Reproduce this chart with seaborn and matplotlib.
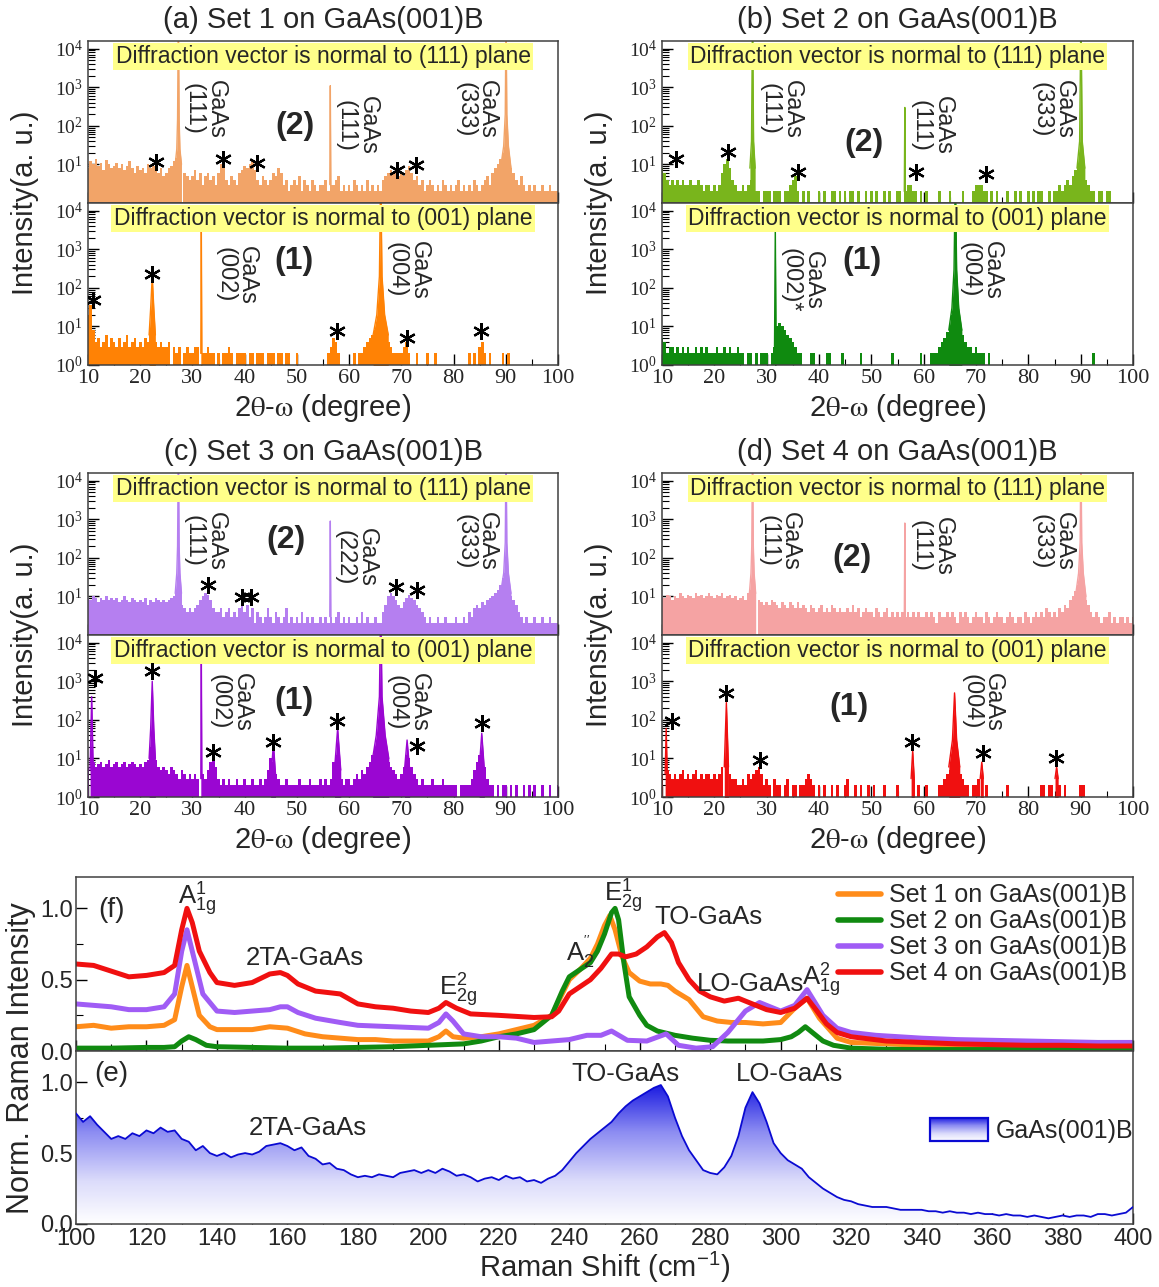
import numpy as np
import pandas as pd
import matplotlib
matplotlib.use("Agg")
import matplotlib.pyplot as plt
import seaborn as sns
from matplotlib.ticker import MultipleLocator, LogLocator, NullFormatter, FormatStrFormatter
from matplotlib.colors import LinearSegmentedColormap
from matplotlib.legend_handler import HandlerBase
from matplotlib.image import BboxImage
from matplotlib.transforms import Bbox, TransformedBbox
from matplotlib.patches import Rectangle, PathPatch, Patch
from matplotlib.path import Path

# ---------------------------------------------------------------- XRD data
# counts on a 0.5 degree grid from 10 to 100 degrees (0 = empty channel)
two_theta = np.arange(10.0, 100.001, 0.5)

a_111_counts = [
    8, 12, 10, 14, 9, 11, 7, 13, 10, 8,
    9, 11, 8, 10, 7, 9, 12, 8, 6, 9,
    7, 8, 6, 10, 8, 9, 7, 6, 8, 5,
    6, 8, 9, 12, 15, 0, 0, 6, 5, 4,
    5, 7, 4, 6, 3, 5, 6, 4, 5, 3,
    6, 10, 8, 4, 3, 5, 4, 3, 6, 7,
    9, 8, 10, 12, 7, 4, 3, 5, 4, 3,
    4, 6, 5, 8, 6, 3, 4, 2, 3, 4,
    3, 5, 2, 4, 3, 2, 4, 3, 2, 3,
    3, 4, 2, 3, 3, 4, 5, 2, 3, 2,
    3, 2, 4, 3, 2, 3, 2, 4, 2, 3,
    2, 3, 2, 4, 5, 6, 7, 6, 8, 5,
    6, 5, 7, 9, 6, 4, 5, 3, 4, 2,
    3, 4, 3, 2, 3, 2, 4, 3, 2, 3,
    2, 3, 4, 2, 3, 2, 3, 2, 4, 3,
    2, 3, 4, 5, 3, 6, 8, 10, 14, 20,
    25, 12, 8, 6, 4, 3, 5, 3, 2, 3,
    2, 3, 2, 2, 3, 2, 2, 3, 2, 2,
    2]
a_111_peaks = [
    [(26.7, 10), (27.0, 25), (27.15, 150), (27.3, 1e5), (27.45, 150), (27.6, 25), (27.9, 10)],
    [(56.3, 3), (56.4, 1100), (56.5, 3)],
    [(89.0, 8), (89.6, 30), (89.9, 200), (90.05, 1e5), (90.2, 200), (90.5, 30), (91.0, 8)],
]
a_001_counts = [
    20, 35, 8, 4, 5, 3, 4, 6, 3, 5,
    4, 3, 5, 3, 4, 6, 3, 4, 5, 3,
    4, 3, 5, 4, 8, 6, 4, 3, 4, 3,
    3, 4, 0, 3, 2, 3, 0, 2, 3, 2,
    2, 3, 3, 0, 2, 2, 3, 2, 2, 0,
    2, 0, 2, 2, 3, 2, 0, 2, 2, 2,
    2, 0, 2, 2, 0, 2, 2, 2, 0, 2,
    2, 2, 0, 2, 2, 0, 2, 2, 0, 0,
    2, 0, 0, 0, 0, 0, 0, 0, 0, 0,
    0, 0, 2, 3, 5, 4, 2, 0, 0, 0,
    0, 0, 2, 0, 2, 2, 3, 4, 5, 6,
    8, 10, 12, 8, 6, 4, 3, 2, 2, 2,
    2, 3, 4, 2, 0, 0, 2, 0, 0, 0,
    2, 0, 0, 2, 0, 0, 0, 0, 0, 0,
    0, 0, 0, 0, 0, 0, 2, 0, 2, 0,
    3, 4, 2, 0, 2, 0, 0, 0, 0, 2,
    0, 2, 0, 0, 0, 0, 0, 0, 0, 0,
    0, 0, 0, 0, 0, 0, 0, 0, 0, 0,
    0]
a_001_peaks = [
    [(21.7, 6), (22.0, 30), (22.3, 200), (22.6, 30), (22.9, 6)],
    [(31.6, 2), (31.7, 4000), (31.8, 2)],
    [(64.6, 6), (65.3, 20), (65.8, 200), (66.05, 1e5), (66.3, 200), (66.8, 20), (67.5, 6)],
]

b_111_counts = [
    8, 6, 4, 3, 4, 3, 4, 3, 4, 3,
    3, 4, 3, 3, 4, 3, 2, 3, 3, 2,
    3, 2, 3, 6, 10, 14, 8, 4, 3, 2,
    2, 3, 2, 3, 4, 3, 2, 2, 0, 2,
    2, 2, 0, 2, 2, 2, 0, 2, 2, 3,
    4, 5, 2, 0, 2, 0, 2, 0, 0, 0,
    2, 0, 2, 0, 0, 2, 2, 0, 2, 0,
    2, 0, 2, 2, 0, 2, 0, 0, 2, 0,
    2, 0, 2, 0, 0, 2, 0, 2, 0, 0,
    2, 2, 0, 2, 3, 3, 2, 2, 0, 2,
    0, 2, 0, 0, 0, 0, 2, 0, 0, 0,
    2, 0, 0, 0, 0, 2, 0, 0, 0, 2,
    3, 3, 3, 2, 2, 0, 2, 0, 2, 0,
    0, 0, 2, 0, 0, 2, 0, 2, 0, 0,
    2, 0, 2, 0, 2, 2, 0, 0, 2, 0,
    2, 2, 3, 2, 3, 4, 3, 5, 7, 10,
    10, 6, 4, 3, 2, 2, 0, 2, 2, 0,
    2, 2, 0, 0, 0, 0, 0, 0, 0, 0,
    0]
b_111_peaks = [
    [(26.8, 8), (27.1, 40), (27.3, 1e5), (27.5, 40), (27.8, 8)],
    [(56.3, 2), (56.4, 300), (56.5, 2)],
    [(89.3, 8), (89.8, 40), (90.05, 1e5), (90.3, 40), (90.8, 8)],
]
b_001_counts = [
    5, 4, 2, 3, 3, 2, 3, 2, 3, 2,
    3, 2, 2, 3, 2, 3, 2, 3, 2, 2,
    2, 3, 2, 2, 3, 2, 3, 2, 2, 3,
    2, 2, 0, 2, 2, 0, 2, 0, 2, 2,
    2, 0, 2, 3, 10, 12, 10, 8, 6, 5,
    4, 3, 2, 2, 0, 0, 0, 2, 2, 0,
    0, 0, 0, 2, 2, 0, 0, 0, 0, 2,
    0, 0, 0, 0, 0, 0, 2, 0, 0, 0,
    0, 0, 0, 0, 0, 0, 0, 0, 2, 0,
    0, 0, 0, 0, 0, 0, 0, 0, 0, 2,
    0, 0, 0, 2, 2, 2, 3, 4, 5, 7,
    10, 20, 30, 20, 8, 6, 4, 3, 3, 2,
    3, 2, 2, 2, 0, 2, 0, 0, 0, 0,
    0, 0, 0, 0, 0, 0, 0, 0, 0, 0,
    0, 0, 0, 0, 0, 0, 0, 0, 0, 0,
    0, 0, 0, 0, 0, 0, 0, 0, 0, 0,
    0, 0, 0, 0, 0, 2, 0, 0, 0, 0,
    0, 0, 0, 0, 0, 0, 0, 0, 0, 0,
    0]
b_001_peaks = [
    [(31.5, 3), (31.65, 4000), (31.8, 3)],
    [(64.8, 8), (65.4, 30), (65.8, 300), (66.05, 1e5), (66.3, 300), (66.7, 30), (67.3, 8)],
]

c_111_counts = [
    9, 8, 10, 9, 7, 9, 8, 10, 8, 9,
    8, 9, 7, 8, 10, 8, 7, 9, 8, 7,
    8, 7, 9, 6, 8, 7, 9, 8, 7, 8,
    7, 8, 9, 10, 12, 0, 6, 5, 4, 5,
    4, 5, 6, 8, 10, 12, 11, 8, 5, 4,
    4, 5, 3, 4, 5, 3, 4, 3, 5, 6,
    4, 6, 3, 5, 2, 4, 3, 2, 3, 5,
    3, 2, 4, 3, 2, 3, 5, 2, 3, 2,
    3, 2, 4, 2, 3, 2, 3, 2, 2, 3,
    2, 3, 2, 3, 2, 3, 4, 2, 3, 2,
    3, 2, 2, 3, 2, 4, 2, 3, 2, 2,
    3, 2, 2, 4, 6, 10, 12, 10, 8, 6,
    5, 7, 9, 11, 9, 8, 6, 5, 4, 3,
    2, 3, 2, 2, 3, 2, 2, 3, 2, 2,
    2, 3, 2, 2, 3, 2, 4, 3, 5, 6,
    5, 7, 6, 8, 9, 10, 12, 15, 20, 30,
    40, 0, 10, 8, 6, 4, 3, 2, 3, 2,
    2, 3, 2, 2, 3, 2, 2, 3, 2, 2,
    2]
c_111_peaks = [
    [(26.7, 12), (27.0, 40), (27.15, 200), (27.3, 1e5), (27.45, 200), (27.6, 40), (27.9, 12)],
    [(56.3, 3), (56.4, 900), (56.5, 3)],
    [(89.0, 12), (89.6, 40), (89.9, 250), (90.05, 1e5), (90.2, 250), (90.5, 40), (91.0, 12)],
]
c_001_counts = [
    6, 0, 8, 6, 7, 8, 6, 7, 9, 6,
    7, 8, 6, 7, 8, 6, 7, 8, 7, 6,
    7, 6, 8, 9, 20, 0, 9, 6, 5, 6,
    5, 4, 6, 5, 4, 3, 5, 4, 3, 4,
    3, 4, 3, 0, 4, 3, 5, 8, 10, 6,
    3, 2, 3, 2, 3, 2, 2, 3, 2, 2,
    3, 2, 2, 3, 2, 2, 3, 2, 3, 5,
    10, 8, 4, 3, 2, 2, 3, 2, 2, 2,
    2, 3, 2, 2, 2, 3, 2, 2, 2, 3,
    2, 3, 2, 3, 8, 12, 10, 3, 2, 3,
    3, 2, 3, 4, 3, 5, 4, 6, 8, 12,
    20, 40, 0, 30, 12, 8, 6, 5, 4, 3,
    4, 6, 12, 10, 6, 4, 3, 2, 3, 2,
    2, 2, 3, 2, 2, 2, 3, 2, 2, 2,
    2, 2, 0, 2, 2, 2, 2, 3, 5, 8,
    12, 10, 6, 3, 2, 2, 0, 2, 0, 2,
    2, 0, 2, 0, 2, 0, 0, 2, 0, 2,
    0, 2, 0, 0, 2, 0, 0, 2, 0, 0,
    2]
c_001_peaks = [
    [(10.4, 5), (10.7, 400), (11.0, 5)],
    [(21.7, 10), (22.0, 60), (22.3, 1000), (22.6, 60), (22.9, 10)],
    [(31.6, 3), (31.7, 6000), (31.8, 3)],
    [(45.1, 4), (45.5, 25), (45.9, 4)],
    [(57.2, 5), (57.8, 60), (58.4, 5)],
    [(64.5, 10), (65.2, 40), (65.8, 400), (66.05, 1e5), (66.3, 400), (66.9, 40), (67.6, 10)],
    [(70.6, 5), (71.1, 30), (71.6, 5)],
    [(84.9, 5), (85.4, 45), (85.9, 5)],
]

d_111_counts = [
    10, 9, 11, 10, 8, 10, 9, 12, 10, 9,
    11, 10, 9, 12, 10, 11, 9, 10, 12, 10,
    9, 11, 10, 12, 9, 10, 11, 9, 10, 8,
    9, 10, 8, 12, 15, 0, 0, 8, 7, 6,
    7, 6, 8, 7, 6, 5, 7, 6, 5, 7,
    6, 5, 7, 5, 6, 5, 4, 6, 5, 4,
    5, 6, 4, 5, 4, 6, 5, 4, 5, 4,
    4, 5, 4, 6, 4, 5, 3, 4, 5, 4,
    4, 3, 5, 4, 3, 4, 5, 3, 4, 3,
    4, 3, 4, 3, 4, 3, 4, 3, 4, 3,
    3, 4, 3, 4, 3, 2, 4, 3, 3, 4,
    3, 4, 3, 2, 4, 3, 4, 3, 2, 3,
    4, 3, 3, 2, 4, 3, 2, 3, 4, 3,
    3, 2, 3, 4, 3, 2, 3, 3, 2, 4,
    3, 2, 3, 4, 3, 4, 3, 5, 4, 3,
    4, 3, 5, 4, 6, 5, 8, 10, 14, 20,
    30, 0, 8, 6, 4, 3, 4, 3, 2, 3,
    3, 4, 2, 3, 2, 3, 3, 2, 3, 2,
    3]
d_111_peaks = [
    [(26.7, 12), (27.0, 40), (27.15, 200), (27.3, 1e5), (27.45, 200), (27.6, 40), (27.9, 12)],
    [(56.3, 3), (56.4, 800), (56.5, 3)],
    [(89.0, 10), (89.6, 40), (89.9, 250), (90.05, 1e5), (90.2, 250), (90.5, 40), (91.0, 10)],
]
d_001_counts = [
    4, 0, 5, 4, 3, 4, 3, 4, 5, 3,
    4, 3, 4, 5, 3, 4, 3, 4, 4, 3,
    4, 3, 4, 6, 0, 0, 4, 3, 3, 2,
    2, 3, 2, 4, 3, 4, 5, 6, 4, 2,
    3, 2, 0, 3, 2, 2, 0, 2, 3, 0,
    2, 2, 0, 2, 2, 3, 4, 3, 2, 0,
    2, 0, 2, 0, 0, 2, 0, 2, 0, 0,
    2, 3, 0, 0, 2, 0, 2, 0, 0, 2,
    0, 2, 0, 0, 0, 2, 0, 0, 0, 0,
    2, 0, 0, 0, 0, 0, 3, 0, 2, 0,
    0, 2, 0, 0, 0, 0, 2, 2, 3, 4,
    5, 10, 12, 8, 4, 3, 2, 2, 0, 2,
    2, 3, 0, 0, 2, 0, 0, 0, 0, 0,
    0, 0, 2, 0, 0, 0, 0, 0, 0, 0,
    0, 0, 0, 0, 0, 2, 2, 0, 2, 2,
    0, 0, 2, 0, 2, 0, 0, 0, 0, 0,
    2, 2, 0, 0, 0, 0, 0, 0, 0, 0,
    0, 0, 0, 0, 0, 0, 0, 0, 0, 0,
    0]
d_001_peaks = [
    [(10.6, 4), (10.8, 60), (11.0, 4)],
    [(21.9, 6), (22.3, 280), (22.7, 6)],
    [(57.6, 3), (57.9, 16), (58.2, 3)],
    [(64.8, 6), (65.5, 30), (65.9, 500), (66.3, 30), (66.9, 6)],
    [(70.8, 3), (71.1, 8), (71.4, 3)],
    [(85.1, 3), (85.4, 6), (85.7, 3)],
]

# ---------------------------------------------------------------- Raman data
set1_shift = [100, 105, 110, 115, 120, 125, 128, 130, 131.5, 133, 135, 138, 140, 145, 150, 155, 160, 165,
              170, 175, 180, 185, 190, 195, 200, 203, 205, 207, 210, 215, 220, 225, 230, 235, 238, 240,
              243, 246, 248, 250, 251.5, 253, 255, 257, 260, 263, 266, 268, 270, 274, 278, 282, 286,
              290, 295, 300, 304, 307.5, 311, 316, 320, 330, 340, 350, 360, 370, 380, 390, 400]
set1_int = [0.17, 0.18, 0.16, 0.17, 0.17, 0.18, 0.22, 0.45, 0.60, 0.45, 0.25, 0.17, 0.15, 0.15, 0.15,
            0.17, 0.16, 0.12, 0.10, 0.09, 0.08, 0.08, 0.07, 0.07, 0.07, 0.10, 0.14, 0.10, 0.09, 0.10,
            0.12, 0.15, 0.18, 0.25, 0.40, 0.50, 0.57, 0.65, 0.75, 0.88, 0.95, 0.85, 0.66, 0.55, 0.49,
            0.47, 0.47, 0.46, 0.42, 0.36, 0.24, 0.21, 0.20, 0.20, 0.19, 0.20, 0.30, 0.37, 0.23, 0.09,
            0.06, 0.05, 0.04, 0.035, 0.03, 0.03, 0.025, 0.025, 0.02]

set2_shift = [100, 110, 120, 125, 128, 130, 132, 134, 137, 140, 150, 160, 170, 180, 190, 200, 210, 215,
              220, 225, 230, 235, 238, 240, 243, 246, 248, 250, 252, 253, 254, 255.5, 257, 260, 262,
              265, 270, 275, 280, 285, 290, 295, 300, 303, 305, 307, 309, 312, 315, 320, 330, 340,
              360, 380, 400]
set2_int = [0.02, 0.02, 0.025, 0.025, 0.03, 0.07, 0.10, 0.08, 0.04, 0.03, 0.025, 0.02, 0.02, 0.025,
            0.03, 0.04, 0.05, 0.07, 0.10, 0.12, 0.15, 0.25, 0.42, 0.52, 0.57, 0.62, 0.70, 0.82, 0.97,
            1.0, 0.92, 0.62, 0.38, 0.25, 0.18, 0.14, 0.11, 0.09, 0.075, 0.07, 0.07, 0.07, 0.08, 0.10,
            0.13, 0.17, 0.13, 0.07, 0.04, 0.02, 0.012, 0.01, 0.01, 0.01, 0.01]

set3_shift = [100, 105, 110, 115, 120, 125, 128, 130, 131.5, 134, 136, 140, 145, 150, 155, 158, 160, 163,
              168, 175, 180, 190, 200, 203, 205, 207, 210, 215, 220, 225, 230, 235, 240, 245, 249, 252,
              256.5, 262, 267.5, 271, 276, 280.7, 285, 290, 294, 300, 304, 307.5, 312, 316, 320, 327,
              340, 350, 360, 370, 380, 390, 400]
set3_int = [0.33, 0.32, 0.31, 0.29, 0.29, 0.31, 0.40, 0.70, 0.85, 0.60, 0.40, 0.28, 0.27, 0.28, 0.29,
            0.31, 0.31, 0.27, 0.23, 0.20, 0.18, 0.17, 0.16, 0.20, 0.26, 0.21, 0.12, 0.10, 0.10, 0.09,
            0.06, 0.07, 0.08, 0.11, 0.11, 0.14, 0.075, 0.07, 0.12, 0.04, 0.02, 0.03, 0.13, 0.28, 0.34,
            0.28, 0.32, 0.43, 0.25, 0.16, 0.13, 0.11, 0.09, 0.08, 0.075, 0.07, 0.065, 0.06, 0.06]

set4_shift = [100, 105, 110, 115, 120, 125, 128, 130, 131.5, 133, 135, 138, 140, 145, 150, 155, 158, 160,
              163, 168, 175, 180, 185, 190, 195, 200, 203, 205, 208, 212, 220, 230, 235, 237, 240, 243,
              246, 249, 252, 254, 256, 259, 262, 265, 267, 269, 271, 274, 277, 280, 284, 288, 290, 293,
              296, 300, 304, 307.5, 310, 313, 316, 320, 330, 340, 350, 360, 370, 380, 390, 400]
set4_int = [0.61, 0.60, 0.56, 0.52, 0.53, 0.55, 0.60, 0.85, 1.0, 0.90, 0.70, 0.55, 0.48, 0.46, 0.48,
            0.54, 0.55, 0.53, 0.47, 0.42, 0.40, 0.33, 0.31, 0.30, 0.28, 0.27, 0.30, 0.34, 0.30, 0.26,
            0.25, 0.235, 0.24, 0.28, 0.40, 0.45, 0.50, 0.58, 0.68, 0.68, 0.66, 0.68, 0.73, 0.80, 0.83,
            0.76, 0.62, 0.50, 0.42, 0.38, 0.35, 0.37, 0.35, 0.32, 0.29, 0.27, 0.30, 0.37, 0.29, 0.19,
            0.13, 0.10, 0.07, 0.06, 0.05, 0.045, 0.04, 0.04, 0.035, 0.035]

# bare substrate, 2 cm-1 grid from 100 to 400
gaas_shift = np.arange(100, 401, 2)
gaas_int = [
    0.78, 0.72, 0.76, 0.70, 0.65, 0.60, 0.62, 0.60, 0.64, 0.62,
    0.66, 0.64, 0.68, 0.65, 0.66, 0.60, 0.58, 0.52, 0.55, 0.50,
    0.48, 0.50, 0.47, 0.49, 0.50, 0.49, 0.51, 0.55, 0.56, 0.57,
    0.55, 0.52, 0.54, 0.48, 0.46, 0.42, 0.43, 0.39, 0.38, 0.35,
    0.33, 0.34, 0.33, 0.35, 0.34, 0.33, 0.36, 0.37, 0.38, 0.36,
    0.38, 0.36, 0.39, 0.37, 0.34, 0.35, 0.33, 0.30, 0.32, 0.33,
    0.31, 0.34, 0.32, 0.33, 0.30, 0.31, 0.29, 0.32, 0.34, 0.38,
    0.44, 0.50, 0.55, 0.60, 0.64, 0.68, 0.72, 0.78, 0.83, 0.87,
    0.90, 0.93, 0.96, 0.98, 0.90, 0.75, 0.62, 0.52, 0.45, 0.38,
    0.36, 0.35, 0.40, 0.48, 0.62, 0.82, 0.93, 0.85, 0.72, 0.57,
    0.50, 0.45, 0.42, 0.39, 0.33, 0.29, 0.25, 0.22, 0.19, 0.17,
    0.16, 0.14, 0.13, 0.12, 0.12, 0.12, 0.11, 0.10, 0.10, 0.10,
    0.10, 0.09, 0.09, 0.08, 0.09, 0.08, 0.08, 0.07, 0.08, 0.07,
    0.07, 0.06, 0.07, 0.06, 0.06, 0.05, 0.06, 0.05, 0.04, 0.05,
    0.06, 0.05, 0.06, 0.06, 0.05, 0.07, 0.07, 0.06, 0.07, 0.08,
    0.12]

set_labels = ["Set 1 on GaAs(001)B", "Set 2 on GaAs(001)B", "Set 3 on GaAs(001)B", "Set 4 on GaAs(001)B"]
set_colors = ["#ff8c1a", "#108a10", "#a05cf5", "#f01010"]

# ---------------------------------------------------------------- style
sns.set_theme(style="ticks")
plt.rcParams["font.family"] = ["Liberation Sans", "DejaVu Sans"]
plt.rcParams["mathtext.fontset"] = "stix"
plt.rcParams["axes.edgecolor"] = "#404040"
plt.rcParams["axes.linewidth"] = 1.1

W, H = 1159, 1287
fig = plt.figure(figsize=(W / 100, H / 100), dpi=100)
fig.patch.set_facecolor("white")


def px_axes(x0, y0, x1, y1):
    return fig.add_axes([x0 / W, 1 - y1 / H, (x1 - x0) / W, (y1 - y0) / H])


SERIF = "Liberation Serif"
HIGHLIGHT = "#ffff8a"


def draw_pattern(ax, counts, peaks, color):
    ax.set_yscale("log")
    frame = pd.DataFrame({"two_theta": two_theta, "counts": np.asarray(counts, dtype=float)})
    sns.histplot(data=frame, x="two_theta", weights="counts", binwidth=0.5, binrange=(9.75, 100.25),
                 element="step", fill=True, color=color, alpha=1.0, linewidth=0, ax=ax)
    for pk in peaks:
        px, py = zip(*pk)
        ax.fill_between(px, 0.5, py, color=color, lw=0)
        ax.plot(px, py, color=color, lw=1.0)
    ax.set_xlim(10, 100)
    ax.set_ylim(1, 10 ** 4.2)
    ax.set_xlabel("")
    ax.set_ylabel("")
    ax.xaxis.set_major_locator(MultipleLocator(10))
    ax.xaxis.set_minor_locator(MultipleLocator(5))
    ax.yaxis.set_minor_locator(LogLocator(base=10, subs=np.arange(2, 10), numticks=20))
    ax.yaxis.set_minor_formatter(NullFormatter())
    ax.tick_params(which="both", direction="in", top=False, right=False, color="black")
    ax.tick_params(which="major", length=8, width=1.0)
    ax.tick_params(which="minor", length=4, width=0.8)
    ax.tick_params(axis="y", which="minor", length=5)


def rot_label(ax, text, x, logy):
    ax.text(x, 10 ** logy, text, rotation=-90, ha="center", va="center", fontsize=17,
            linespacing=1.0, multialignment="center")


def stars(ax, pts):
    for x, logy in pts:
        ax.plot([x], [10 ** logy], marker=(6, 2, 0), ms=12, mew=1.6, color="black", zorder=4)


xrd_panels = [
    dict(title="(a) Set 1 on GaAs(001)B", box=(88, 41, 558, 365),
         colors=("#f2a468", "#ff8205"),
         top=(a_111_counts, a_111_peaks), bottom=(a_001_counts, a_001_peaks),
         top_labels=[("GaAs\n(111)", 32.3, 2.43), ("GaAs\n(111)", 61.4, 2.0), ("GaAs\n(333)", 84.3, 2.43)],
         top_tag=(49.7, 2.0),
         top_stars=[(23.0, 1.07), (35.8, 1.13), (42.3, 1.03), (69.2, 0.85), (72.8, 0.98)],
         bottom_labels=[("GaAs\n(002)", 38.4, 2.33), ("GaAs\n(004)", 71.2, 2.46)],
         bottom_tag=(49.4, 2.69),
         bottom_stars=[(10.9, 1.69), (22.2, 2.37), (57.7, 0.88), (71.0, 0.70), (85.2, 0.88)]),
    dict(title="(b) Set 2 on GaAs(001)B", box=(662, 41, 1133, 365),
         colors=("#79b51c", "#0f8a0f"),
         top=(b_111_counts, b_111_peaks), bottom=(b_001_counts, b_001_peaks),
         top_labels=[("GaAs\n(111)", 32.7, 2.43), ("GaAs\n(111)", 61.5, 2.0), ("GaAs\n(333)", 84.7, 2.43)],
         top_tag=(48.6, 1.55),
         top_stars=[(12.6, 1.13), (22.7, 1.33), (35.9, 0.8), (58.6, 0.8), (72.0, 0.76)],
         bottom_labels=[("GaAs\n(002)*", 36.7, 2.19), ("GaAs\n(004)", 70.9, 2.46)],
         bottom_tag=(48.3, 2.69),
         bottom_stars=[]),
    dict(title="(c) Set 3 on GaAs(001)B", box=(88, 473, 558, 797),
         colors=("#b57ff0", "#9a06d2"),
         top=(c_111_counts, c_111_peaks), bottom=(c_001_counts, c_001_peaks),
         top_labels=[("GaAs\n(111)", 32.3, 2.43), ("GaAs\n(222)", 61.3, 2.0), ("GaAs\n(333)", 84.3, 2.43)],
         top_tag=(47.9, 2.47),
         top_stars=[(33.0, 1.29), (39.5, 0.98), (41.2, 0.98), (69.0, 1.25), (73.0, 1.16)],
         bottom_labels=[("GaAs\n(002)", 37.3, 2.46), ("GaAs\n(004)", 71.2, 2.44)],
         bottom_tag=(49.4, 2.5),
         bottom_stars=[(11.3, 3.09), (22.3, 3.27), (34.0, 1.17), (45.5, 1.42), (57.7, 1.96),
                       (73.0, 1.33), (85.4, 1.92)]),
    dict(title="(d) Set 4 on GaAs(001)B", box=(662, 473, 1133, 797),
         colors=("#f5a3a3", "#f01010"),
         top=(d_111_counts, d_111_peaks), bottom=(d_001_counts, d_001_peaks),
         top_labels=[("GaAs\n(111)", 32.4, 2.43), ("GaAs\n(111)", 61.5, 2.3), ("GaAs\n(333)", 84.7, 2.43)],
         top_tag=(46.4, 1.99),
         top_stars=[],
         bottom_labels=[("GaAs\n(004)", 71.2, 2.46)],
         bottom_tag=(45.7, 2.33),
         bottom_stars=[(12.0, 1.96), (22.2, 2.69), (28.7, 0.97), (57.8, 1.42), (71.3, 1.15), (85.3, 1.01)]),
]

for p in xrd_panels:
    x0, y0, x1, y1 = p["box"]
    ym = (y0 + y1) / 2
    ax_t = px_axes(x0, y0, x1, ym)
    ax_b = px_axes(x0, ym, x1, y1)

    draw_pattern(ax_t, p["top"][0], p["top"][1], p["colors"][0])
    draw_pattern(ax_b, p["bottom"][0], p["bottom"][1], p["colors"][1])

    ax_t.set_yticks([1e1, 1e2, 1e3, 1e4],
                    labels=[r"$\mathdefault{10^{%d}}$" % k for k in (1, 2, 3, 4)])
    ax_b.set_yticks([1e0, 1e1, 1e2, 1e3, 1e4],
                    labels=[r"$\mathdefault{10^{%d}}$" % k for k in (0, 1, 2, 3, 4)])
    ax_t.tick_params(labelbottom=False)
    for ax in (ax_t, ax_b):
        for lab in ax.get_yticklabels():
            lab.set_fontfamily(SERIF)
            lab.set_fontsize(14)
    for lab in ax_b.get_xticklabels():
        lab.set_fontfamily(SERIF)
        lab.set_fontsize(16)
    ax_b.tick_params(axis="x", pad=3)

    ax_t.set_title(p["title"], fontsize=21, pad=9)
    ax_b.set_xlabel(r"2$\mathrm{\theta}$-$\mathrm{\omega}$ (degree)", fontsize=21, labelpad=3)

    for ax, plane in ((ax_t, "(111)"), (ax_b, "(001)")):
        ax.text(55, 10 ** 3.8, "Diffraction vector is normal to %s plane" % plane,
                ha="center", va="center", fontsize=16.5,
                bbox=dict(boxstyle="square,pad=0.1", fc=HIGHLIGHT, ec="none"))

    for text, x, ly in p["top_labels"]:
        rot_label(ax_t, text, x, ly)
    for text, x, ly in p["bottom_labels"]:
        rot_label(ax_b, text, x, ly)
    ax_t.text(p["top_tag"][0], 10 ** p["top_tag"][1], "(2)", fontsize=23, fontweight="bold",
              ha="center", va="center")
    ax_b.text(p["bottom_tag"][0], 10 ** p["bottom_tag"][1], "(1)", fontsize=23, fontweight="bold",
              ha="center", va="center")
    stars(ax_t, p["top_stars"])
    stars(ax_b, p["bottom_stars"])

    fig.text((x0 - 63) / W, 1 - ym / H, "Intensity(a. u.)", rotation=90, ha="center", va="center",
             fontsize=21)

# ---------------------------------------------------------------- Raman panels
ax_f = px_axes(76, 877, 1133, 1051)
ax_e = px_axes(76, 1051, 1133, 1224)

for shift, inten, lab, col in zip((set1_shift, set2_shift, set3_shift, set4_shift),
                                  (set1_int, set2_int, set3_int, set4_int),
                                  set_labels, set_colors):
    sns.lineplot(x=np.asarray(shift, dtype=float), y=np.asarray(inten, dtype=float), color=col,
                 lw=3.6, label=lab, ax=ax_f)

fill_cmap = LinearSegmentedColormap.from_list(
    "substrate_fill", [(0.0, "#ffffff"), (0.3, "#dcdcfb"), (0.65, "#8c8cf2"), (1.0, "#1414e0")])
line_blue = "#0a0ad2"

sns.lineplot(x=gaas_shift.astype(float), y=np.asarray(gaas_int, dtype=float), color=line_blue,
             lw=1.3, ax=ax_e, zorder=3)
verts = [(gaas_shift[0], 0.0)] + list(zip(gaas_shift, gaas_int)) + [(gaas_shift[-1], 0.0)]
clip_patch = PathPatch(Path(verts), transform=ax_e.transData, facecolor="none", edgecolor="none")
ax_e.add_patch(clip_patch)
grad = np.linspace(0, 1, 256).reshape(-1, 1)
img = ax_e.imshow(grad, extent=[100, 400, 0, 1.0], origin="lower", aspect="auto",
                  cmap=fill_cmap, zorder=1, interpolation="bicubic")
img.set_clip_path(clip_patch)


class GradientHandler(HandlerBase):
    def create_artists(self, legend, orig_handle, xdescent, ydescent, width, height, fontsize, trans):
        bb = TransformedBbox(Bbox.from_bounds(-xdescent, -ydescent, width, height), trans)
        im = BboxImage(bb, interpolation="bilinear")
        im.set_data(fill_cmap(np.linspace(1, 0, 64))[:, None, :])
        edge = Rectangle((-xdescent, -ydescent), width, height, fill=False,
                         edgecolor=line_blue, lw=1.6, transform=trans)
        return [im, edge]


for ax in (ax_f, ax_e):
    ax.set_xlim(100, 400)
    ax.set_ylim(0, 1.22)
    ax.set_xlabel("")
    ax.set_ylabel("")
    ax.xaxis.set_major_locator(MultipleLocator(20))
    ax.xaxis.set_minor_locator(MultipleLocator(10))
    ax.yaxis.set_major_locator(MultipleLocator(0.5))
    ax.yaxis.set_minor_locator(MultipleLocator(0.25))
    ax.yaxis.set_major_formatter(FormatStrFormatter("%.1f"))
    ax.tick_params(which="both", direction="in", top=False, right=False, color="black", labelsize=17)
    ax.tick_params(which="major", length=8, width=1.0)
    ax.tick_params(which="minor", length=5, width=0.8)
ax_f.tick_params(labelbottom=False)
ax_e.tick_params(axis="x", pad=3)
ax_e.tick_params(axis="y", pad=2)
ax_f.tick_params(axis="y", pad=2)

leg = ax_f.legend(loc="upper right", bbox_to_anchor=(1.0, 1.0), frameon=False, fontsize=18,
                  handlelength=1.75, handletextpad=0.3, labelspacing=0.08, borderaxespad=0.15,
                  borderpad=0.1)
for ln in leg.get_lines():
    ln.set_linewidth(4.0)

sub_handle = Patch(label="GaAs(001)B")
ax_e.legend(handles=[sub_handle], handler_map={sub_handle: GradientHandler()}, loc="center right",
            bbox_to_anchor=(1.0, 0.54), frameon=False, fontsize=18, handlelength=2.3,
            handleheight=1.05, handletextpad=0.3, borderaxespad=0, borderpad=0)

mode_fs = 18.5
ax_f.text(110, 0.99, "(f)", fontsize=20, ha="center", va="center")
ax_f.text(129, 1.07, r"$\mathregular{A}^{\mathregular{1}}_{\mathregular{1g}}$", fontsize=mode_fs,
          ha="left", va="center")
ax_f.text(165, 0.65, "2TA-GaAs", fontsize=mode_fs, ha="center", va="center")
ax_f.text(203, 0.43, r"$\mathregular{E}^{\mathregular{2}}_{\mathregular{2g}}$", fontsize=mode_fs,
          ha="left", va="center")
ax_f.text(239, 0.70, r"$\mathregular{A}^{\mathregular{''}}_{\mathregular{2}}$", fontsize=mode_fs,
          ha="left", va="center")
ax_f.text(250, 1.09, r"$\mathregular{E}^{\mathregular{1}}_{\mathregular{2g}}$", fontsize=mode_fs,
          ha="left", va="center")
ax_f.text(279.5, 0.94, "TO-GaAs", fontsize=mode_fs, ha="center", va="center")
ax_f.text(291.3, 0.47, "LO-GaAs", fontsize=mode_fs, ha="center", va="center")
ax_f.text(306, 0.50, r"$\mathregular{A}^{\mathregular{2}}_{\mathregular{1g}}$", fontsize=mode_fs,
          ha="left", va="center")

ax_e.text(110, 1.06, "(e)", fontsize=20, ha="center", va="center")
ax_e.text(165.7, 0.68, "2TA-GaAs", fontsize=mode_fs, ha="center", va="center")
ax_e.text(256, 1.06, "TO-GaAs", fontsize=mode_fs, ha="center", va="center")
ax_e.text(302.6, 1.06, "LO-GaAs", fontsize=mode_fs, ha="center", va="center")

ax_e.set_xlabel(r"Raman Shift (cm$^{\mathregular{-1}}$)", fontsize=21, labelpad=0)
fig.text(21 / W, 1 - 1058 / H, "Norm. Raman Intensity", rotation=90, ha="center", va="center",
         fontsize=22)

fig.savefig("out.png", dpi=100, facecolor="white")
